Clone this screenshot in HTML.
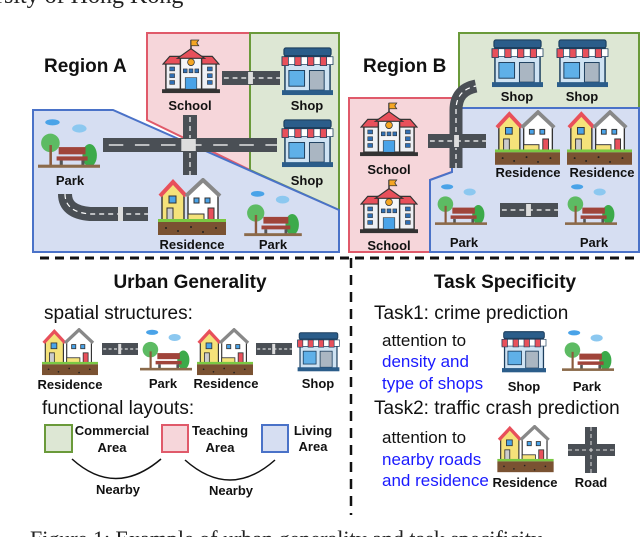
<!DOCTYPE html>
<html><head><meta charset="utf-8"><style>
html,body{margin:0;padding:0;background:#fff;}
svg{display:block;}
text{font-family:"Liberation Sans",Arial,sans-serif;}
.lb{font-size:13px;font-weight:bold;fill:#111;text-anchor:middle;}
.hd{font-size:19px;font-weight:bold;fill:#111;}
.tx{font-size:19px;fill:#111;}
.at{font-size:17px;fill:#111;}
.bl{font-size:17px;fill:#1a1aff;}
</style></head><body>
<svg width="640" height="537" viewBox="0 0 640 537" xmlns="http://www.w3.org/2000/svg">
<defs>
<symbol id="school" viewBox="0 0 60 58">
 <line x1="30" y1="1" x2="30" y2="12" stroke="#333" stroke-width="1.5"/>
 <path d="M30 1h8l-2 3 2 3h-8z" fill="#f5a623" stroke="#333" stroke-width="0.8"/>
 <rect x="4" y="24" width="52" height="28" fill="#eef0f4" stroke="#333" stroke-width="1.5"/>
 <path d="M1 26 L8 18 H52 L59 26Z" fill="#e8505b" stroke="#333" stroke-width="1.2"/>
 <rect x="19" y="18" width="22" height="34" fill="#f4f5f8" stroke="#333" stroke-width="1.5"/>
 <path d="M16 20 L30 10 L44 20Z" fill="#e8505b" stroke="#333" stroke-width="1.2"/>
 <circle cx="30" cy="24" r="3.5" fill="#f5a623" stroke="#333" stroke-width="0.8"/>
 <g fill="#2f6fb5" stroke="#333" stroke-width="0.6">
 <rect x="8" y="29" width="5" height="4"/><rect x="8" y="36" width="5" height="4"/><rect x="8" y="43" width="5" height="4"/>
 <rect x="47" y="29" width="5" height="4"/><rect x="47" y="36" width="5" height="4"/><rect x="47" y="43" width="5" height="4"/>
 <rect x="22" y="31" width="4" height="4"/><rect x="28" y="31" width="4" height="4"/><rect x="34" y="31" width="4" height="4"/>
 <rect x="24" y="40" width="12" height="12" fill="#4aa3e8"/></g>
 <rect x="0" y="52" width="60" height="4" fill="#333"/>
</symbol>
<symbol id="shop" viewBox="0 0 56 52">
 <rect x="4" y="2" width="48" height="8" rx="2" fill="#2b5d8a" stroke="#1d3f5e" stroke-width="1.2"/>
 <rect x="5" y="10" width="46" height="38" fill="#cfe3f3" stroke="#1d3f5e" stroke-width="1.5"/>
 <g stroke="#1d3f5e" stroke-width="0.8">
 <path d="M2 11h52v8H2z" fill="#fff"/>
 <path d="M2 11h6.5v9H2zM15 11h6.5v9H15zM28 11h6.5v9H28zM41 11h6.5v9H41z" fill="#e8505b"/></g>
 <rect x="9" y="25" width="16" height="16" fill="#5fb0e8" stroke="#1d3f5e" stroke-width="1"/>
 <rect x="30" y="25" width="15" height="20" fill="#aab6c2" stroke="#1d3f5e" stroke-width="1"/>
 <rect x="2" y="45" width="52" height="5" fill="#2b5d8a"/>
</symbol>
<symbol id="res" viewBox="0 0 68 58">
 <path d="M4 16 L15 5 L26 16 V42 H4Z" fill="#f5e27a" stroke="#333" stroke-width="1.4"/>
 <path d="M2 18 L15 4 L28 18" fill="none" stroke="#e8505b" stroke-width="4"/>
 <path d="M30 16 L45 3 L60 16 V42 H30Z" fill="#fff" stroke="#333" stroke-width="1.4"/>
 <path d="M28 18 L45 2 L62 18" fill="none" stroke="#888" stroke-width="4"/>
 <rect x="11" y="18" width="7" height="7" fill="#4aa3e8" stroke="#333"/>
 <rect x="9" y="30" width="6" height="12" fill="#ccc" stroke="#333"/>
 <rect x="36" y="20" width="5" height="5" fill="#4aa3e8" stroke="#333"/><rect x="47" y="20" width="5" height="5" fill="#4aa3e8" stroke="#333"/>
 <rect x="50" y="30" width="6" height="12" fill="#e8505b" stroke="#333"/>
 <rect x="30" y="36" width="16" height="6" fill="#f5e27a" stroke="#333"/>
 <rect x="0" y="41" width="68" height="3" fill="#7ac943"/>
 <rect x="0" y="44" width="68" height="13" fill="#7a5232"/>
 <g fill="#222"><circle cx="8" cy="50" r="1"/><circle cx="20" cy="53" r="1"/><circle cx="33" cy="49" r="1"/><circle cx="45" cy="54" r="1"/><circle cx="58" cy="50" r="1"/></g>
</symbol>
<symbol id="park" viewBox="0 0 60 50">
 <ellipse cx="14" cy="4" rx="7" ry="3" fill="#4aa3e8"/>
 <ellipse cx="40" cy="10" rx="7" ry="4" fill="#8cc8f0"/>
 <circle cx="12" cy="24" r="9" fill="#5dbb63"/>
 <rect x="11" y="26" width="2.5" height="20" fill="#8b5a3c"/>
 <ellipse cx="50" cy="36" rx="7" ry="11" fill="#3caa4a"/>
 <rect x="20" y="28" width="26" height="7" fill="#a0443a"/>
 <rect x="18" y="37" width="30" height="4" fill="#a0443a"/>
 <rect x="21" y="41" width="3" height="5" fill="#555"/><rect x="42" y="41" width="3" height="5" fill="#555"/>
 <rect x="0" y="45" width="60" height="3" fill="#8b6a4a"/>
</symbol>
<symbol id="roadh" viewBox="0 0 60 14" preserveAspectRatio="none">
 <rect x="0" y="0" width="60" height="14" fill="#4a4f55"/>
 <line x1="2" y1="7" x2="60" y2="7" stroke="#fff" stroke-width="1.2" stroke-dasharray="5 4"/>
 <rect x="27" y="1" width="5" height="12" fill="#ddd"/>
</symbol>
</defs>

<text x="-4" y="3" style="font-family:'Liberation Serif',serif;font-size:24px;fill:#222">rsity of Hong Kong</text>

<!-- Region A -->
<polygon points="147,33 250,33 250,170 147,120" fill="#f6d6da" stroke="#e05a6a" stroke-width="2"/>
<polygon points="250,33 339,33 339,210 250,170" fill="#dde7d4" stroke="#6a9a3a" stroke-width="2"/>
<polygon points="33,110 113,110 339,210 339,252 33,252" fill="#d6def2" stroke="#4a72c8" stroke-width="2"/>
<text x="44" y="72" class="hd">Region A</text>
<use href="#school" x="162" y="39" width="58" height="56"/>
<text x="190" y="110" class="lb">School</text>
<use href="#roadh" x="222" y="71" width="58" height="14"/>
<use href="#shop" x="280" y="46" width="55" height="51"/>
<text x="307" y="110" class="lb">Shop</text>
<use href="#shop" x="280" y="118" width="55" height="51"/>
<text x="307" y="185" class="lb">Shop</text>
<rect x="183" y="115" width="14" height="60" fill="#4a4f55"/>
<line x1="190" y1="117" x2="190" y2="175" stroke="#fff" stroke-width="1.2" stroke-dasharray="5 4"/>
<use href="#roadh" x="103" y="138" width="174" height="14"/>
<text x="70" y="185" class="lb">Park</text>
<use href="#park" x="38" y="118" width="62" height="52"/>
<path d="M65 194 Q65 212 90 214 H148" fill="none" stroke="#4a4f55" stroke-width="14"/>
<path d="M65 194 Q65 212 90 214 H148" fill="none" stroke="#fff" stroke-width="1.2" stroke-dasharray="5 4"/>
<rect x="118" y="207" width="5" height="14" fill="#ddd"/>
<use href="#res" x="158" y="178" width="68" height="58"/>
<text x="192" y="249" class="lb">Residence</text>
<use href="#park" x="244" y="190" width="58" height="48"/>
<text x="273" y="249" class="lb">Park</text>

<!-- Region B -->
<polygon points="459,33 639,33 639,108 459,108" fill="#dde7d4" stroke="#6a9a3a" stroke-width="2"/>
<polygon points="349,98 452,98 452,172 430,180 430,252 349,252" fill="#f6d6da" stroke="#e05a6a" stroke-width="2"/>
<polygon points="452,108 639,108 639,252 430,252 430,180 452,172" fill="#d6def2" stroke="#4a72c8" stroke-width="2"/>
<text x="363" y="72" class="hd">Region B</text>
<use href="#shop" x="490" y="38" width="55" height="51"/>
<text x="517" y="101" class="lb">Shop</text>
<use href="#shop" x="555" y="38" width="55" height="51"/>
<text x="582" y="101" class="lb">Shop</text>
<path d="M456 168 V110 Q456 90 476 86" fill="none" stroke="#4a4f55" stroke-width="13"/>
<path d="M456 168 V110 Q456 90 476 86" fill="none" stroke="#fff" stroke-width="1.2" stroke-dasharray="5 4"/>
<use href="#roadh" x="428" y="134" width="58" height="14"/>
<use href="#school" x="360" y="102" width="58" height="56"/>
<text x="389" y="174" class="lb">School</text>
<use href="#school" x="360" y="178" width="58" height="58"/>
<text x="389" y="250" class="lb">School</text>
<use href="#res" x="495" y="110" width="65" height="56"/>
<text x="528" y="177" class="lb">Residence</text>
<use href="#res" x="567" y="110" width="65" height="56"/>
<text x="602" y="177" class="lb">Residence</text>
<use href="#park" x="435" y="182" width="52" height="46"/>
<text x="464" y="247" class="lb">Park</text>
<use href="#roadh" x="500" y="203" width="58" height="14"/>
<use href="#park" x="565" y="182" width="52" height="46"/>
<text x="594" y="247" class="lb">Park</text>

<line x1="40" y1="258" x2="640" y2="258" stroke="#111" stroke-width="3" stroke-dasharray="9 6"/>
<line x1="351" y1="258" x2="351" y2="515" stroke="#111" stroke-width="2.5" stroke-dasharray="10 7"/>

<text x="190" y="288" class="hd" text-anchor="middle">Urban Generality</text>
<text x="44" y="319" class="tx">spatial structures:</text>
<use href="#res" x="42" y="328" width="56" height="48"/>
<text x="70" y="389" class="lb">Residence</text>
<use href="#roadh" x="102" y="343" width="36" height="12"/>
<use href="#park" x="140" y="328" width="52" height="45"/>
<text x="163" y="388" class="lb">Park</text>
<use href="#res" x="197" y="328" width="56" height="48"/>
<text x="226" y="388" class="lb">Residence</text>
<use href="#roadh" x="256" y="343" width="36" height="12"/>
<use href="#shop" x="296" y="330" width="45" height="44"/>
<text x="318" y="388" class="lb">Shop</text>
<text x="42" y="414" class="tx">functional layouts:</text>
<rect x="45" y="425" width="27" height="27" fill="#dde7d4" stroke="#6a9a3a" stroke-width="2"/>
<text x="112" y="435" class="lb">Commercial</text><text x="112" y="452" class="lb">Area</text>
<rect x="162" y="425" width="26" height="27" fill="#f6d6da" stroke="#e05a6a" stroke-width="2"/>
<text x="220" y="435" class="lb">Teaching</text><text x="220" y="452" class="lb">Area</text>
<rect x="262" y="425" width="26" height="27" fill="#d6def2" stroke="#4a72c8" stroke-width="2"/>
<text x="313" y="435" class="lb">Living</text><text x="313" y="451" class="lb">Area</text>
<path d="M72 459 Q115 498 161 459" fill="none" stroke="#111" stroke-width="1.5"/>
<path d="M185 460 Q230 500 275 460" fill="none" stroke="#111" stroke-width="1.5"/>
<text x="118" y="494" class="lb">Nearby</text>
<text x="231" y="495" class="lb">Nearby</text>

<text x="505" y="288" class="hd" text-anchor="middle">Task Specificity</text>
<text x="374" y="319" class="tx">Task1: crime prediction</text>
<text x="382" y="346" class="at">attention to</text>
<text x="382" y="367" class="bl">density and</text>
<text x="382" y="389" class="bl">type of shops</text>
<use href="#shop" x="500" y="330" width="48" height="44"/>
<text x="524" y="391" class="lb">Shop</text>
<use href="#park" x="562" y="328" width="52" height="46"/>
<text x="587" y="391" class="lb">Park</text>
<text x="374" y="414" class="tx">Task2: traffic crash prediction</text>
<text x="382" y="443" class="at">attention to</text>
<text x="382" y="465" class="bl">nearby roads</text>
<text x="382" y="486" class="bl">and residence</text>
<use href="#res" x="497" y="425" width="57" height="48"/>
<text x="525" y="487" class="lb">Residence</text>
<rect x="585" y="427" width="12" height="46" fill="#4a4f55"/>
<rect x="568" y="444" width="47" height="12" fill="#4a4f55"/>
<line x1="568" y1="450" x2="615" y2="450" stroke="#ddd" stroke-width="1" stroke-dasharray="4 3"/>
<line x1="591" y1="427" x2="591" y2="473" stroke="#ddd" stroke-width="1" stroke-dasharray="4 3"/>
<text x="591" y="487" class="lb">Road</text>

<text x="30" y="546" style="font-family:'Liberation Serif',serif;font-size:22px;fill:#222">Figure 1: Example of urban generality and task specificity</text>
</svg>
</body></html>
